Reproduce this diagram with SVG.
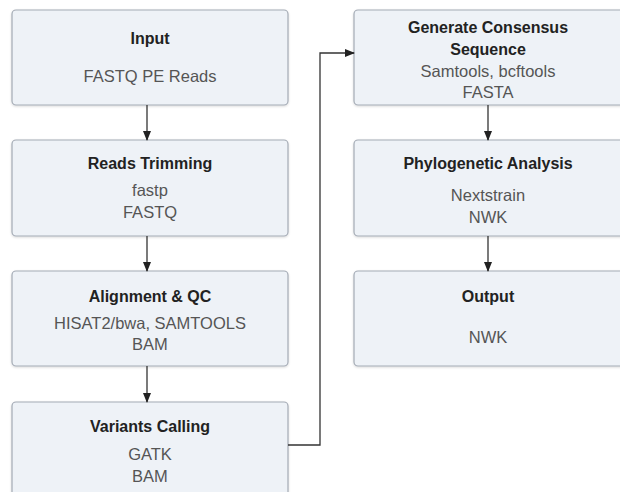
<svg xmlns="http://www.w3.org/2000/svg" width="620" height="492" viewBox="0 0 620 492">
<defs>
<marker id="arr" markerWidth="10" markerHeight="8" refX="9" refY="4" orient="auto" markerUnits="userSpaceOnUse">
<path d="M0,0 L10,4 L0,8 Z" fill="#222"/>
</marker>
<filter id="sh" x="-5%" y="-5%" width="110%" height="115%">
<feDropShadow dx="0" dy="1" stdDeviation="1" flood-color="#000" flood-opacity="0.15"/>
</filter>
</defs>
<style>
.box{fill:#eef2f7;stroke:#a4abb5;stroke-width:1.2;filter:url(#sh)}
.t{font-family:"Liberation Sans",Arial,sans-serif;font-size:16px;font-weight:bold;fill:#222;text-anchor:middle}
.s{font-family:"Liberation Sans",Arial,sans-serif;font-size:16.5px;fill:#555;text-anchor:middle}
.c{fill:none;stroke:#333;stroke-width:1.3}
</style>
<rect width="620" height="492" fill="#fff"/>
<g id="input">
<rect class="box" x="12" y="10" width="276" height="95" rx="4"/>
<text class="t" x="150" y="44">Input</text>
<text class="s" x="150" y="82">FASTQ PE Reads</text>
</g>
<g id="trimming">
<rect class="box" x="12" y="140" width="276" height="96" rx="4"/>
<text class="t" x="150" y="169">Reads Trimming</text>
<text class="s" x="150" y="196">fastp</text>
<text class="s" x="150" y="218">FASTQ</text>
</g>
<g id="alignment">
<rect class="box" x="12" y="271" width="276" height="95" rx="4"/>
<text class="t" x="150" y="302">Alignment &amp; QC</text>
<text class="s" x="150" y="329">HISAT2/bwa, SAMTOOLS</text>
<text class="s" x="150" y="350">BAM</text>
</g>
<g id="variants">
<rect class="box" x="12" y="402" width="276" height="100" rx="4"/>
<text class="t" x="150" y="432">Variants Calling</text>
<text class="s" x="150" y="460">GATK</text>
<text class="s" x="150" y="482">BAM</text>
</g>
<g id="consensus">
<rect class="box" x="354" y="10" width="276" height="95" rx="4"/>
<text class="t" x="488" y="33">Generate Consensus</text>
<text class="t" x="488" y="55">Sequence</text>
<text class="s" x="488" y="77">Samtools, bcftools</text>
<text class="s" x="488" y="98">FASTA</text>
</g>
<g id="phylo">
<rect class="box" x="354" y="140" width="276" height="96" rx="4"/>
<text class="t" x="488" y="169">Phylogenetic Analysis</text>
<text class="s" x="488" y="201">Nextstrain</text>
<text class="s" x="488" y="223">NWK</text>
</g>
<g id="output">
<rect class="box" x="354" y="271" width="276" height="95" rx="4"/>
<text class="t" x="488" y="302">Output</text>
<text class="s" x="488" y="343">NWK</text>
</g>
<g id="connectors">
<line class="c" x1="147" y1="105" x2="147" y2="140" marker-end="url(#arr)"/>
<line class="c" x1="147" y1="236" x2="147" y2="271" marker-end="url(#arr)"/>
<line class="c" x1="147" y1="366" x2="147" y2="402" marker-end="url(#arr)"/>
<polyline class="c" points="288,445 320,445 320,53 354,53" marker-end="url(#arr)"/>
<line class="c" x1="488" y1="105" x2="488" y2="140" marker-end="url(#arr)"/>
<line class="c" x1="488" y1="236" x2="488" y2="271" marker-end="url(#arr)"/>
</g>
</svg>
